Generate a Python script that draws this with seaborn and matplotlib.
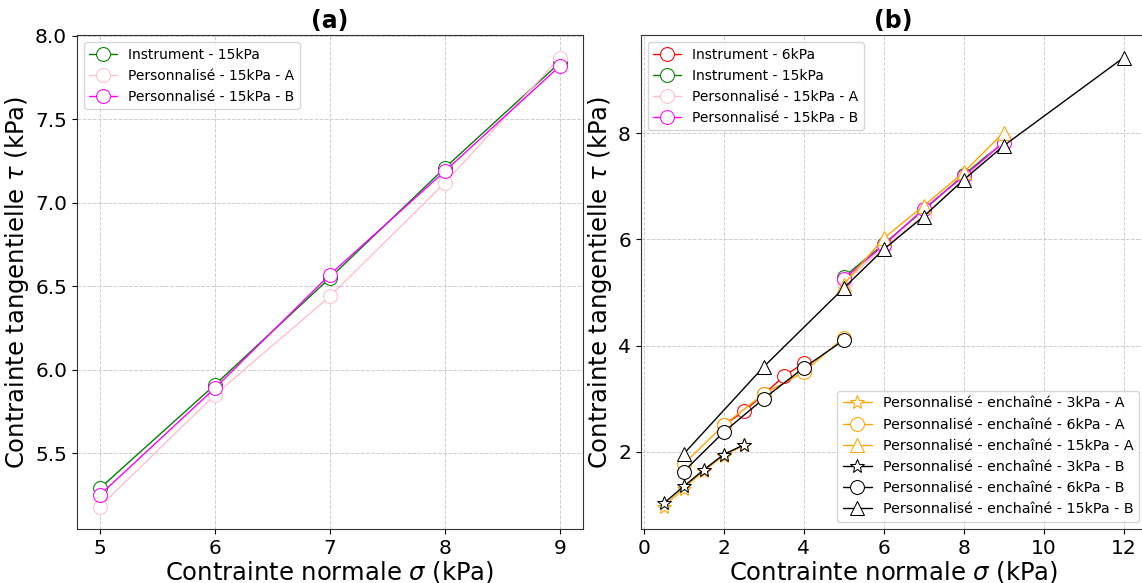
import matplotlib
matplotlib.use("Agg")
import matplotlib.pyplot as plt
import seaborn as sns

# ==========================
# DATA
# ==========================

# Instrument / Personnalise - 15kPa (same points in (a) and (b))
x_15 = [5, 6, 7, 8, 9]
instr_15 = [5.29, 5.91, 6.55, 7.21, 7.84]
perso_15_A = [5.18, 5.85, 6.44, 7.12, 7.87]
perso_15_B = [5.25, 5.89, 6.57, 7.19, 7.82]

# Instrument - 6kPa
x_instr_6 = [2, 2.5, 3, 3.5, 4]
instr_6 = [2.50, 2.76, 3.08, 3.42, 3.67]

# Personnalise - enchaine
x_ench_3 = [0.5, 1, 1.5, 2, 2.5]
ench_3_A = [0.97, 1.31, 1.64, 1.93, 2.12]
ench_3_B = [1.03, 1.35, 1.66, 1.95, 2.13]

x_ench_6 = [1, 2, 3, 4, 5]
ench_6_A = [1.77, 2.50, 3.09, 3.50, 4.15]
ench_6_B = [1.63, 2.37, 3.00, 3.58, 4.10]

x_ench_15_A = [5, 6, 7, 8, 9]
ench_15_A = [5.15, 6.02, 6.63, 7.26, 8.01]
x_ench_15_B = [1, 3, 5, 6, 7, 8, 9, 12]
ench_15_B = [1.96, 3.60, 5.08, 5.81, 6.43, 7.12, 7.76, 9.42]

# ==========================
# PLOT
# ==========================

sns.set_style("ticks")
plt.rcParams["font.family"] = ["DejaVu Sans"]
plt.rcParams["text.color"] = "black"
plt.rcParams["axes.labelcolor"] = "black"
plt.rcParams["xtick.color"] = "black"
plt.rcParams["ytick.color"] = "black"
plt.rcParams["axes.edgecolor"] = "#333333"

fig = plt.figure(figsize=(11.42, 5.83), dpi=100)
ax1 = fig.add_axes([0.0674, 0.0926, 0.443, 0.847])
# right panel runs slightly past the right edge of the figure, as in the original
ax2 = fig.add_axes([0.561, 0.0926, 0.443, 0.847])

mk = dict(markerfacecolor="white", markersize=10, linewidth=1, sort=False)


def serie(ax, x, y, color, marker, label):
    sns.lineplot(x=x, y=y, ax=ax, color=color, marker=marker,
                 markeredgecolor=color, label=label, **mk)


# (a)
serie(ax1, x_15, instr_15, "green", "o", "Instrument - 15kPa")
serie(ax1, x_15, perso_15_A, "pink", "o", "Personnalisé - 15kPa - A")
serie(ax1, x_15, perso_15_B, "magenta", "o", "Personnalisé - 15kPa - B")
ax1.set_xticks([5, 6, 7, 8, 9])
ax1.set_title("(a)", fontsize=17, fontweight="bold", pad=5)
ax1.legend(loc="upper left", fontsize=10)

# (b)
serie(ax2, x_instr_6, instr_6, "red", "o", "Instrument - 6kPa")
serie(ax2, x_15, instr_15, "green", "o", "Instrument - 15kPa")
serie(ax2, x_15, perso_15_A, "pink", "o", "Personnalisé - 15kPa - A")
serie(ax2, x_15, perso_15_B, "magenta", "o", "Personnalisé - 15kPa - B")
serie(ax2, x_ench_3, ench_3_A, "orange", "*", "Personnalisé - enchaîné - 3kPa - A")
serie(ax2, x_ench_6, ench_6_A, "orange", "o", "Personnalisé - enchaîné - 6kPa - A")
serie(ax2, x_ench_15_A, ench_15_A, "orange", "^", "Personnalisé - enchaîné - 15kPa - A")
serie(ax2, x_ench_3, ench_3_B, "black", "*", "Personnalisé - enchaîné - 3kPa - B")
serie(ax2, x_ench_6, ench_6_B, "black", "o", "Personnalisé - enchaîné - 6kPa - B")
serie(ax2, x_ench_15_B, ench_15_B, "black", "^", "Personnalisé - enchaîné - 15kPa - B")
ax2.set_title("(b)", fontsize=17, fontweight="bold", pad=5)

handles, labels = ax2.get_legend_handles_labels()
leg1 = ax2.legend(handles[:4], labels[:4], loc="upper left", fontsize=10)
ax2.add_artist(leg1)
ax2.legend(handles[4:], labels[4:], loc="lower right", fontsize=10.3)

for ax in (ax1, ax2):
    ax.grid(True, linestyle="--", linewidth=0.7, color="#c0c0c0", alpha=0.8)
    ax.set_xlabel(r"Contrainte normale $\sigma$ (kPa)", fontsize=17.5, labelpad=1)
    ax.set_ylabel(r"Contrainte tangentielle $\tau$ (kPa)", fontsize=17.5, labelpad=3)
    ax.tick_params(labelsize=14.5)

fig.savefig("out.png", dpi=100)
